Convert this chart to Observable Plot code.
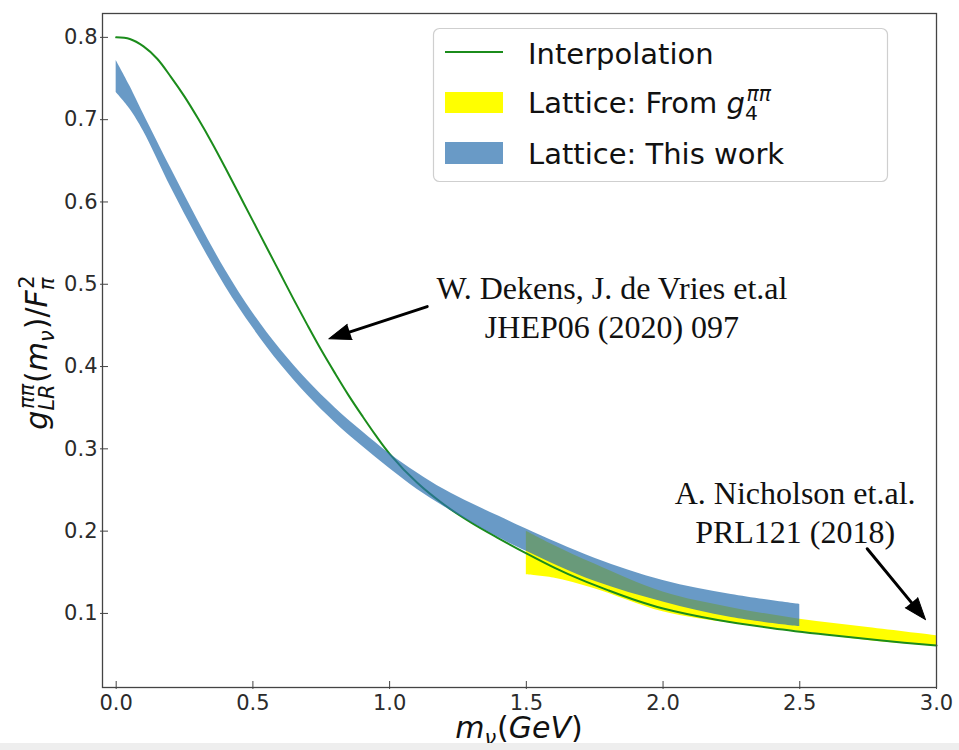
<!DOCTYPE html>
<html><head><meta charset="utf-8">
<script src="https://cdn.jsdelivr.net/npm/d3@7"></script>
<script src="https://cdn.jsdelivr.net/npm/@observablehq/plot@0.6"></script>
<style>
html,body{margin:0;padding:0;background:#fff;}
#wrap{position:relative;width:959px;height:750px;overflow:hidden;background:#fff;}
#strip{position:absolute;left:0;top:743px;width:959px;height:7px;background:#eeeeee;}
</style></head>
<body><div id="wrap"></div>
<script>
// ---------- data ----------
const interpX = [0,0.05,0.1,0.15,0.2,0.25,0.3,0.35,0.4,0.45,0.5,0.55,0.6,0.65,0.7,0.75,0.8,0.85,0.9,0.95,1.0,1.1,1.2,1.3,1.4,1.5,1.6,1.7,1.8,1.9,2.0,2.2,2.4,2.6,2.8,3.0];
const interpY = [0.800,0.798,0.789,0.774,0.752,0.728,0.701,0.672,0.641,0.609,0.577,0.545,0.513,0.481,0.450,0.420,0.392,0.365,0.340,0.316,0.294,0.259,0.232,0.210,0.191,0.173,0.156,0.141,0.128,0.116,0.106,0.092,0.082,0.074,0.067,0.061];

const blueX  = [0,0.05,0.1,0.2,0.3,0.4,0.5,0.6,0.7,0.8,0.9,1.0,1.1,1.2,1.3,1.4,1.5,1.75,2.0,2.25,2.5];
const blueHi = [0.772,0.741,0.707,0.641,0.577,0.517,0.465,0.421,0.383,0.350,0.321,0.294,0.271,0.2505,0.2335,0.218,0.2025,0.167,0.140,0.123,0.111];
const blueLo = [0.733,0.713,0.686,0.618,0.555,0.497,0.447,0.403,0.365,0.332,0.303,0.276,0.251,0.2295,0.2105,0.192,0.1755,0.139,0.114,0.095,0.084];

const yellowX  = [1.5,1.6,1.75,2.0,2.25,2.5,2.75,3.0];
const yellowHi = [0.200,0.183,0.160,0.126,0.107,0.093,0.083,0.073];
const yellowLo = [0.147,0.143,0.130,0.102,0.088,0.078,0.067,0.060];

const xTicks = [0,0.5,1.0,1.5,2.0,2.5,3.0];
const yTicks = [0.1,0.2,0.3,0.4,0.5,0.6,0.7,0.8];

const annX = [1.813, 2.483];
const annY = [0.4734, 0.2244];
const annText = ["W. Dekens, J. de Vries et.al\nJHEP06 (2020) 097", "A. Nicholson et.al.\nPRL121 (2018)"];

const arrowX1 = [1.1375, 2.7466];
const arrowY1 = [0.4729, 0.1786];
const arrowX2 = [0.7776, 2.9598];
const arrowY2 = [0.4337, 0.0924];

const legendLabels = ["Interpolation", "Lattice: From ", "Lattice: This work"];

// ---------- styling ----------
const greenColor = "#1b8c1b";
const yellowColor = "#ffff00";
const blueColor = "#2a6fae";
const blueOpacity = 0.7;

const W = 959, H = 750;
const mL = 102, mR = 23, mT = 13, mB = 63;
const xDomain = [-0.05, 3.0], yDomain = [0.01, 0.829];
const frameW = W - mL - mR, frameH = H - mT - mB;

const interp = interpX.map((x, i) => ({x, y: interpY[i]}));
const blue = blueX.map((x, i) => ({x, lo: blueLo[i], hi: blueHi[i]}));
const yellow = yellowX.map((x, i) => ({x, lo: yellowLo[i], hi: yellowHi[i]}));
const annotations = annX.map((x, i) => ({x, y: annY[i], text: annText[i]}));

const xs = d3.scaleLinear(xDomain, [mL, W - mR]);
const ys = d3.scaleLinear(yDomain, [H - mB, mT]);
const arrows = arrowX1.map((x1, i) => {
  const a = {x1, y1: arrowY1[i], x2: arrowX2[i], y2: arrowY2[i]};
  const dx = xs(a.x2) - xs(a.x1), dy = ys(a.y2) - ys(a.y1);
  a.angle = Math.atan2(dx, -dy) * 180 / Math.PI;
  return a;
});

const plot = Plot.plot({
  width: W, height: H,
  marginLeft: mL, marginRight: mR, marginTop: mT, marginBottom: mB,
  style: {fontFamily: "DejaVu Sans", background: "white", overflow: "visible"},
  x: {domain: xDomain},
  y: {domain: yDomain},
  marks: [
    Plot.areaY(yellow, {x: "x", y1: "lo", y2: "hi", fill: yellowColor, curve: "catmull-rom"}),
    Plot.line(interp, {x: "x", y: "y", stroke: greenColor, strokeWidth: 2, curve: "catmull-rom"}),
    Plot.areaY(blue, {x: "x", y1: "lo", y2: "hi", fill: blueColor, fillOpacity: blueOpacity, curve: "catmull-rom"}),
    Plot.arrow(arrows, {x1: "x1", y1: "y1", x2: "x2", y2: "y2", stroke: "black", strokeWidth: 3, headLength: 0, insetEnd: 12}),
    Plot.vector(arrows, {x: "x2", y: "y2", rotate: "angle", length: 22, r: 8, shape: "spike", anchor: "end", fill: "black", stroke: "black", strokeWidth: 1}),
    Plot.text(annotations, {x: "x", y: "y", text: "text", fontFamily: "Liberation Serif", fontSize: 32, lineHeight: 1.22, textAnchor: "middle", lineAnchor: "middle", fill: "#111"}),
    Plot.frame({stroke: "#444", strokeWidth: 1.3}),
    Plot.tickX(xTicks, {x: d => d, stroke: "#444", insetTop: frameH - 6, insetBottom: -2}),
    Plot.tickY(yTicks, {y: d => d, stroke: "#444", insetRight: frameW - 6, insetLeft: -2}),
    Plot.axisX(xTicks, {tickSize: 0, tickPadding: 8, fontSize: 21, fill: "#2b2b2b", tickFormat: d => d.toFixed(1), label: null}),
    Plot.axisY(yTicks, {tickSize: 0, tickPadding: 5, fontSize: 21, fill: "#2b2b2b", tickFormat: d => d.toFixed(1), label: null})
  ]
});

const wrap = document.getElementById("wrap");
wrap.appendChild(plot);
const strip = document.createElement("div");
strip.id = "strip";
wrap.appendChild(strip);

const svg = d3.select(plot);

// math-like text builder (sub/superscripts stacked like mathtext)
function mathText(textSel, segs, fs) {
  let cur = 0, pend = 0;
  for (const s of segs) {
    if (s.t !== undefined) {
      const t = textSel.append("tspan").text(s.t).attr("font-style", s.i ? "italic" : "normal").attr("font-size", fs);
      if (cur) { t.attr("dy", -cur); cur = 0; }
      if (pend) { t.attr("dx", pend); pend = 0; }
    } else {
      const sfs = fs * 0.7;
      let wsub = 0, wsup = 0;
      if (s.sub) {
        const target = fs * 0.24;
        const t = textSel.append("tspan").text(s.sub).attr("font-size", sfs)
          .attr("font-style", s.subI ? "italic" : "normal").attr("dy", target - cur);
        cur = target;
        if (pend) { t.attr("dx", pend); pend = 0; }
        wsub = t.node().getComputedTextLength();
      }
      if (s.sup) {
        const target = -fs * 0.42;
        const shift = wsub ? fs * 0.05 : 0;
        const t = textSel.append("tspan").text(s.sup).attr("font-size", sfs)
          .attr("font-style", s.supI ? "italic" : "normal").attr("dy", target - cur);
        cur = target;
        if (wsub) t.attr("dx", -wsub + shift);
        else if (pend) { t.attr("dx", pend); pend = 0; }
        wsup = t.node().getComputedTextLength() + shift;
      }
      pend = (s.sub && s.sup) ? Math.max(0, wsub - wsup) + fs * 0.03 : fs * 0.03;
    }
  }
}

// y-axis label
const ylabG = svg.append("g").attr("transform", "translate(46.5,352.5) rotate(-90)");
const ylab = ylabG.append("text").attr("font-family", "DejaVu Sans").attr("text-anchor", "start").attr("fill", "#111").attr("x", 0).attr("y", 0);
mathText(ylab, [
  {t: "g", i: 1}, {sub: "LR", subI: 1, sup: "\u03c0\u03c0", supI: 1},
  {t: "(", i: 0}, {t: "m", i: 1}, {sub: "\u03bd", subI: 1},
  {t: ")/", i: 0}, {t: "F", i: 1}, {sub: "\u03c0", subI: 1, sup: "2", supI: 0}
], 30);
{ const b = ylab.node().getBBox(); ylab.attr("x", -(b.x + b.width / 2)); }

// x-axis label
const xlab = svg.append("text").attr("font-family", "DejaVu Sans").attr("text-anchor", "start").attr("fill", "#111").attr("x", 0).attr("y", 738);
mathText(xlab, [
  {t: "m", i: 1}, {sub: "\u03bd", subI: 1}, {t: "(", i: 0}, {t: "GeV", i: 1}, {t: ")", i: 0}
], 30);
{ const b = xlab.node().getBBox(); xlab.attr("x", 519 - (b.x + b.width / 2)); }

// legend
const lg = svg.append("g").attr("font-family", "DejaVu Sans").attr("text-anchor", "start");
lg.append("rect").attr("x", 433.5).attr("y", 28.5).attr("width", 454).attr("height", 153).attr("rx", 6)
  .attr("fill", "white").attr("fill-opacity", 0.8).attr("stroke", "#cfcfcf").attr("stroke-width", 1.2);
const rowC = [53, 102.5, 153];
lg.append("line").attr("x1", 445).attr("x2", 503).attr("y1", rowC[0] - 1).attr("y2", rowC[0] - 1)
  .attr("stroke", greenColor).attr("stroke-width", 2);
lg.append("rect").attr("x", 445).attr("y", rowC[1] - 10.5).attr("width", 58).attr("height", 21).attr("fill", yellowColor);
lg.append("rect").attr("x", 445).attr("y", rowC[2] - 11).attr("width", 58).attr("height", 22).attr("fill", blueColor).attr("fill-opacity", blueOpacity);
const legendSegs = [
  [{t: legendLabels[0], i: 0}],
  [{t: legendLabels[1], i: 0}, {t: "g", i: 1}, {sub: "4", subI: 0, sup: "\u03c0\u03c0", supI: 1}],
  [{t: legendLabels[2], i: 0}]
];
legendSegs.forEach((segs, k) => {
  const t = lg.append("text").attr("x", 528).attr("y", rowC[k] + 10.5).attr("fill", "#111");
  mathText(t, segs, 29);
});
</script>
</body></html>
